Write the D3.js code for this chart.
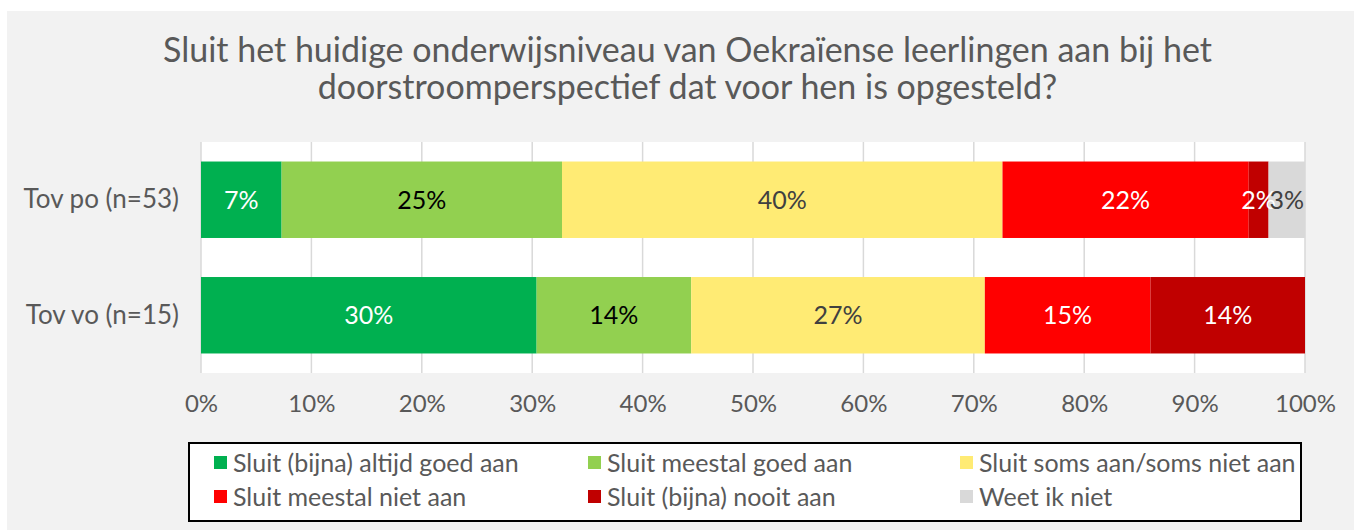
<!DOCTYPE html>
<html>
<head>
<meta charset="utf-8">
<script src="https://cdn.jsdelivr.net/npm/d3@7"></script>
<style>
  body { margin: 0; background: #fff; }
  text { font-family: Lato, "Open Sans", sans-serif; font-weight: 400; }
</style>
</head>
<body>
<div id="chart"></div>
<script>
// chart data
var categories = ["Tov po (n=53)", "Tov vo (n=15)"];
var seriesNames = [
    "Sluit (bijna) altijd goed aan",
    "Sluit meestal goed aan",
    "Sluit soms aan/soms niet aan",
    "Sluit meestal niet aan",
    "Sluit (bijna) nooit aan",
    "Weet ik niet"
];
var poValues = [7.3, 25.4, 39.9, 22.3, 1.8, 3.3];
var voValues = [30.4, 14.0, 26.6, 15.0, 14.0, 0];
var xTicks = [0, 10, 20, 30, 40, 50, 60, 70, 80, 90, 100];
var titleLines = [
    "Sluit het huidige onderwijsniveau van Oekraïense leerlingen aan bij het",
    "doorstroomperspectief dat voor hen is opgesteld?"
];

var colors = ["#00b050", "#92d050", "#ffeb74", "#ff0000", "#c00000", "#d9d9d9"];
var labelColors = ["#ffffff", "#000000", "#404040", "#ffffff", "#ffffff", "#404040"];

var W = 1354, H = 530;
var svg = d3.select("#chart").append("svg").attr("width", W).attr("height", H);

// chart area background
svg.append("rect").attr("x", 7).attr("y", 11).attr("width", W - 7).attr("height", H - 11)
    .attr("fill", "#f2f2f2");

// title
svg.append("g").selectAll("text").data(titleLines).enter().append("text")
    .attr("x", 687.5)
    .attr("y", function (d, i) { return 62 + i * 37; })
    .attr("text-anchor", "middle")
    .attr("font-size", 34)
    .attr("font-weight", 300)
    .attr("fill", "#595959")
    .text(function (d) { return d; });

var plot = { left: 201, right: 1305, top: 142, bottom: 373 };

var x = d3.scaleLinear().domain([0, 100]).range([plot.left, plot.right]);
var y = d3.scaleBand().domain(categories).range([plot.top, plot.bottom])
    .paddingInner(0.338).paddingOuter(0.169);

svg.append("rect").attr("x", plot.left).attr("y", plot.top)
    .attr("width", plot.right - plot.left).attr("height", plot.bottom - plot.top)
    .attr("fill", "#ffffff");

// gridlines
svg.append("g").selectAll("line").data(xTicks).enter().append("line")
    .attr("x1", function (d) { return x(d); }).attr("x2", function (d) { return x(d); })
    .attr("y1", plot.top).attr("y2", plot.bottom)
    .attr("stroke", "#d9d9d9").attr("stroke-width", 1.5);

// x axis labels
var xAxis = d3.axisBottom(x).tickValues(xTicks).tickSize(0).tickPadding(0)
    .tickFormat(function (d) { return d + "%"; });
var gx = svg.append("g").attr("transform", "translate(0," + plot.bottom + ")").call(xAxis);
gx.select(".domain").remove();
gx.selectAll("text").attr("font-size", 24).attr("fill", "#595959")
    .attr("font-family", "Lato, sans-serif").attr("dy", null).attr("y", 39);

// y axis labels
var yAxis = d3.axisLeft(y).tickSize(0).tickPadding(0);
var gy = svg.append("g").attr("transform", "translate(179,0)").call(yAxis);
gy.select(".domain").remove();
gy.selectAll("text").attr("font-size", 26).attr("fill", "#595959")
    .attr("font-family", "Lato, sans-serif").attr("dy", "0.33em");

// stacked bars
var rows = [poValues, voValues].map(function (vals, ci) {
    var acc = 0;
    return vals.map(function (v, si) {
        var seg = { cat: categories[ci], s: si, v: v, x0: acc, x1: acc + v };
        acc += v;
        return seg;
    }).filter(function (d) { return d.v > 0; });
});
var segs = [].concat.apply([], rows);

var gBars = svg.append("g");
gBars.selectAll("rect").data(segs).enter().append("rect")
    .attr("x", function (d) { return x(d.x0); })
    .attr("y", function (d) { return y(d.cat); })
    .attr("width", function (d) { return x(d.x1) - x(d.x0); })
    .attr("height", y.bandwidth())
    .attr("fill", function (d) { return colors[d.s]; });

gBars.selectAll("text").data(segs).enter().append("text")
    .attr("x", function (d) { return x((d.x0 + d.x1) / 2); })
    .attr("y", function (d) { return y(d.cat) + y.bandwidth() / 2; })
    .attr("dy", "0.36em")
    .attr("text-anchor", "middle")
    .attr("font-size", 25)
    .attr("fill", function (d) { return labelColors[d.s]; })
    .text(function (d) { return Math.round(d.v) + "%"; });

// legend
var legend = svg.append("g");
legend.append("rect").attr("x", 189).attr("y", 443).attr("width", 1112).attr("height", 78)
    .attr("fill", "#ffffff").attr("stroke", "#000000").attr("stroke-width", 2);

var colX = [214, 588, 960];
var items = legend.selectAll("g.item").data(seriesNames).enter().append("g")
    .attr("transform", function (d, i) {
        return "translate(" + colX[i % 3] + "," + (456 + Math.floor(i / 3) * 34) + ")";
    });
items.append("rect").attr("width", 13).attr("height", 13)
    .attr("fill", function (d, i) { return colors[i]; });
items.append("text").attr("x", 19).attr("y", 15.5)
    .attr("font-size", 25).attr("fill", "#595959")
    .text(function (d) { return d; });
</script>
</body>
</html>
